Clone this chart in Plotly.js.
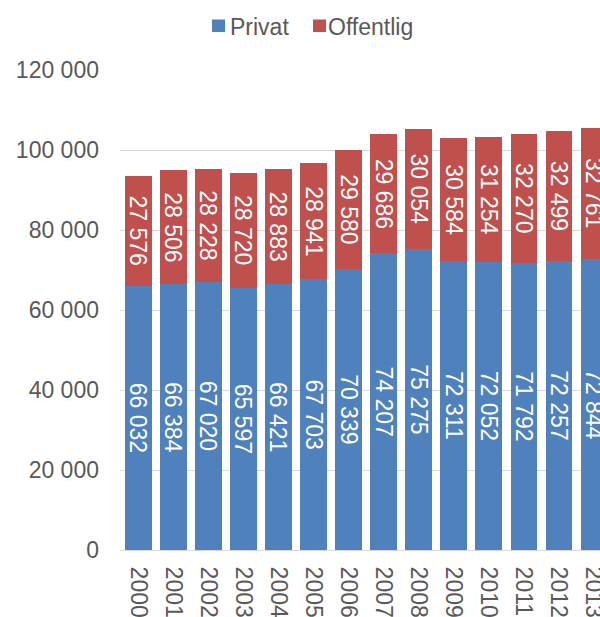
<!DOCTYPE html>
<html>
<head>
<meta charset="utf-8">
<script src="https://cdn.plot.ly/plotly-3.0.1.min.js"></script>
<style>html,body{margin:0;padding:0;background:#fff;}#chart{width:600px;height:617px;}</style>
</head>
<body>
<div id="chart"></div>
<script>
var years = ["2000","2001","2002","2003","2004","2005","2006","2007","2008","2009","2010","2011","2012","2013"];
var privat = [66032, 66384, 67020, 65597, 66421, 67703, 70339, 74207, 75275, 72311, 72052, 71792, 72257, 72844];
var offentlig = [27576, 28506, 28228, 28720, 28883, 28941, 29580, 29686, 30054, 30584, 31254, 32270, 32499, 32761];
var yTicks = [0, 20000, 40000, 60000, 80000, 100000, 120000];
var seriesNames = ["Privat", "Offentlig"];
var seriesColors = ["#4F81BD", "#C0504D"];

var fontFam = '"Liberation Sans", Arial, sans-serif';
var labelFont = {family: fontFam, size: 23, color: '#ffffff'};
var textColor = '#595959';

var traces = [privat, offentlig].map(function (vals, i) {
  return {
    type: 'bar', name: seriesNames[i], x: years, y: vals,
    marker: {color: seriesColors[i], line: {width: 0}},
    texttemplate: '%{y:,}', textposition: 'inside', insidetextanchor: 'middle',
    constraintext: 'none',
    textangle: 90, textfont: labelFont, hoverinfo: 'skip'
  };
});

// manual legend (square swatch right next to its text)
function px2x(px) { return (px - 120) / 480; }
function py2y(py) { return (550 - py) / 480; }
var legendSw = [[212, 225], [313, 326]];
var legendTx = [229, 327];
var shapes = [], annotations = [];
for (var i = 0; i < seriesNames.length; i++) {
  shapes.push({type: 'rect', xref: 'paper', yref: 'paper',
    x0: px2x(legendSw[i][0]), x1: px2x(legendSw[i][1]), y0: py2y(32), y1: py2y(19.5),
    fillcolor: seriesColors[i], line: {width: 0}});
  annotations.push({xref: 'paper', yref: 'paper', x: px2x(legendTx[i]), y: py2y(26.5),
    xanchor: 'left', yanchor: 'middle', showarrow: false, text: seriesNames[i],
    font: {family: fontFam, size: 23, color: textColor}, borderpad: 0});
}

var layout = {
  width: 600, height: 617,
  margin: {l: 120, r: 0, t: 70, b: 67, pad: 0},
  barmode: 'stack', bargap: 0.24,
  separators: ', ',
  paper_bgcolor: '#ffffff', plot_bgcolor: '#ffffff',
  font: {family: fontFam, size: 23, color: textColor},
  showlegend: false,
  shapes: shapes, annotations: annotations,
  xaxis: {
    type: 'category', range: [-0.522, 13.173], tickangle: 90,
    showgrid: false, showline: true, linecolor: '#D9D9D9', linewidth: 1,
    ticks: '', ticklabelstandoff: 11, automargin: false,
    tickfont: {family: fontFam, size: 23, color: textColor}
  },
  yaxis: {
    range: [0, 120000], tickvals: yTicks, tickformat: ',d',
    showgrid: true, gridcolor: '#D9D9D9', gridwidth: 1,
    zeroline: false, showline: false, ticks: '', ticklabelstandoff: 20,
    automargin: false,
    tickfont: {family: fontFam, size: 23, color: textColor}
  }
};

Plotly.newPlot('chart', traces, layout, {displayModeBar: false, staticPlot: true});
</script>
</body>
</html>
